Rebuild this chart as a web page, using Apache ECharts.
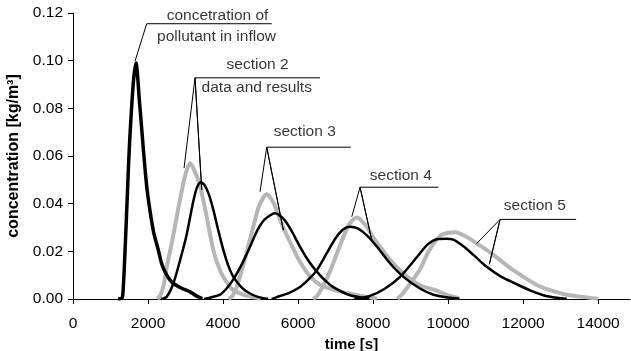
<!DOCTYPE html>
<html>
<head>
<meta charset="utf-8">
<script src="https://cdn.jsdelivr.net/npm/echarts@6/dist/echarts.min.js"></script>
<style>
  html, body { margin: 0; padding: 0; background: #fff; }
  #chart { width: 631px; height: 351px; }
</style>
</head>
<body>
<div id="chart"></div>
<script>
// time [s] / concentration [kg/m3]
var xTicks = [0, 2000, 4000, 6000, 8000, 10000, 12000, 14000]
var yTicks = [0, 0.02, 0.04, 0.06, 0.08, 0.1, 0.12]

var inflow = [[1200, 0], [1310, 0.0005], [1345, 0.006], [1387, 0.02], [1450, 0.044], [1500, 0.063],
  [1608, 0.0907], [1680, 0.099], [1768, 0.0837], [1875, 0.063], [1960, 0.048], [2053, 0.037],
  [2150, 0.028], [2275, 0.0205], [2360, 0.015], [2453, 0.0114], [2560, 0.0085], [2675, 0.0065],
  [2900, 0.0045], [3120, 0.003], [3300, 0.0012], [3450, 0.0002]]

var sec2Data = [[2250, 0], [2330, 0.0015], [2420, 0.006], [2500, 0.0135], [2640, 0.024], [2765, 0.0345],
  [2942, 0.0486], [3030, 0.054], [3120, 0.057], [3220, 0.0545], [3387, 0.0477], [3480, 0.041],
  [3565, 0.0345], [3741, 0.0205], [3920, 0.012], [4100, 0.007], [4275, 0.0037], [4500, 0.002],
  [4720, 0.001], [5000, 0.0002]]
var sec2Model = [[2350, 0], [2500, 0.001], [2675, 0.0065], [2850, 0.016], [3030, 0.027], [3200, 0.0405],
  [3300, 0.0465], [3400, 0.049], [3500, 0.048], [3620, 0.044], [3740, 0.0375], [3870, 0.029],
  [4010, 0.0205], [4140, 0.0140], [4275, 0.0093], [4500, 0.0048], [4720, 0.0023], [4950, 0.0008], [5200, 0.0001]]

var sec3Data = [[4150, 0], [4250, 0.0012], [4365, 0.005], [4500, 0.012], [4630, 0.0195], [4800, 0.030],
  [4960, 0.039], [5165, 0.0440], [5340, 0.0405], [5480, 0.035], [5610, 0.0298], [5875, 0.021],
  [6053, 0.0155], [6320, 0.0095], [6590, 0.006], [7030, 0.0035], [7470, 0.002], [7800, 0.001], [8100, 0.0002]]
var sec3Model = [[3500, 0], [3920, 0.0018], [4100, 0.0045], [4275, 0.0082], [4500, 0.0145], [4720, 0.0219],
  [4920, 0.029], [5120, 0.0335], [5385, 0.036], [5620, 0.0335], [5830, 0.0285], [6053, 0.0219],
  [6300, 0.0155], [6500, 0.0115], [6720, 0.0078], [6941, 0.005], [7387, 0.0016], [7900, 0.0002]]

var sec4Data = [[6400, 0], [6520, 0.0015], [6765, 0.0085], [6950, 0.0155], [7120, 0.0225], [7350, 0.031],
  [7565, 0.0342], [7800, 0.031], [8000, 0.026], [8187, 0.0219], [8450, 0.0165], [8810, 0.0107],
  [9253, 0.0058], [9700, 0.0035], [9950, 0.0018], [10300, 0.0002]]
var sec4Model = [[5300, 0], [5430, 0.0008], [5750, 0.0025], [6053, 0.005], [6300, 0.0085], [6500, 0.0121],
  [6765, 0.0192], [7000, 0.0255], [7200, 0.0292], [7387, 0.0303], [7600, 0.0295], [7850, 0.0265],
  [8100, 0.022], [8450, 0.015], [8810, 0.0093], [9253, 0.0044], [9610, 0.0018], [10000, 0.0006], [10300, 0.0001]]

var sec5Data = [[8650, 0], [8800, 0.0025], [8990, 0.0065], [9253, 0.0125], [9500, 0.0205], [9787, 0.0265],
  [10000, 0.0278], [10200, 0.028], [10500, 0.026], [10765, 0.0233], [11100, 0.0198], [11387, 0.0163],
  [11700, 0.0125], [12010, 0.0093], [12350, 0.006], [12720, 0.0037], [13100, 0.002], [13520, 0.001], [14000, 0.0001]]
var sec5Model = [[7500, 0], [7900, 0.0012], [8300, 0.0042], [8720, 0.0093], [9165, 0.0175], [9450, 0.0228],
  [9700, 0.0251], [9950, 0.0253], [10140, 0.0249], [10400, 0.0222], [10675, 0.0185], [11030, 0.0135],
  [11400, 0.0095], [11830, 0.0062], [12200, 0.0035], [12540, 0.0016], [12900, 0.0005], [13165, 0.0001]]

// leader lines: tip -> apex -> tip -> apex -> end of underline
var leaders = [
  [[1653, 0.0998], [1965, 0.1155], [5299, 0.1155]],
  [[2960, 0.0549], [3253, 0.0928], [3432, 0.0458], [3253, 0.0928], [6587, 0.0928]],
  [[4987, 0.0450], [5165, 0.0637], [5608, 0.0289], [5165, 0.0637], [7405, 0.0637]],
  [[7432, 0.0345], [7653, 0.0469], [7965, 0.0247], [7653, 0.0469], [9741, 0.0469]],
  [[10765, 0.0233], [11387, 0.0334], [11100, 0.0146], [11387, 0.0334], [13413, 0.0334]]
]
var labels = [
  [3853, 0.1190, 'concetration of'],
  [3827, 0.1102, 'pollutant in inflow'],
  [4920, 0.0981, 'section 2'],
  [4899, 0.0886, 'data and results'],
  [6179, 0.0701, 'section 3'],
  [8741, 0.0517, 'section 4'],
  [12312, 0.0390, 'section 5']
]

var font = 'Arial, "Liberation Sans", sans-serif'
var chart = echarts.init(document.getElementById('chart'))

function dataLine(d) {
  return { type: 'line', data: d, showSymbol: false, smooth: 0.25, z: 2,
    lineStyle: { color: '#b6b6b6', width: 4 } }
}
function modelLine(d, w) {
  return { type: 'line', data: d, showSymbol: false, smooth: 0.25, z: 3,
    lineStyle: { color: '#000', width: w } }
}

var series = [
  dataLine(sec2Data), dataLine(sec3Data), dataLine(sec4Data), dataLine(sec5Data),
  modelLine(inflow, 3.5), modelLine(sec2Model, 2.5), modelLine(sec3Model, 2.5),
  modelLine(sec4Model, 2.5), modelLine(sec5Model, 2.5)
]
leaders.forEach(function (l) {
  series.push({ type: 'line', data: l, showSymbol: false, z: 4,
    lineStyle: { color: '#000', width: 1 } })
})
series.push({
  type: 'scatter', data: labels, symbolSize: 0, z: 5,
  label: { show: true, position: 'inside', color: '#000', fontFamily: font, fontSize: 15.5,
    formatter: function (p) { return p.value[2] } }
})

chart.setOption({
  animation: false,
  grid: { left: 73, right: 1, top: 13, bottom: 52, outerBoundsMode: 'none', containLabel: false },
  xAxis: {
    type: 'value', min: 0, max: 14850,
    name: 'time [s]', nameLocation: 'middle', nameGap: 31,
    nameTextStyle: { color: '#000', fontFamily: font, fontSize: 15, fontWeight: 'bold' },
    axisLine: { lineStyle: { color: '#000', width: 1 } },
    axisTick: { length: 5, lineStyle: { color: '#000' }, customValues: xTicks },
    axisLabel: { color: '#000', fontFamily: font, fontSize: 15.5, margin: 17, customValues: xTicks,
      formatter: function (v) { return String(v) } },
    splitLine: { show: false }
  },
  yAxis: {
    type: 'value', min: 0, max: 0.12, interval: 0.02,
    name: 'concentration [kg/m³]', nameLocation: 'middle', nameGap: 38,
    nameTextStyle: { color: '#000', fontFamily: font, fontSize: 16, fontWeight: 'bold' },
    axisLine: { show: true, lineStyle: { color: '#000', width: 1 } },
    axisTick: { show: true, length: 5, lineStyle: { color: '#000' } },
    axisLabel: { color: '#000', fontFamily: font, fontSize: 15.5, margin: 10,
      formatter: function (v) { return v.toFixed(2) } },
    splitLine: { show: false }
  },
  series: series
})
</script>
</body>
</html>
